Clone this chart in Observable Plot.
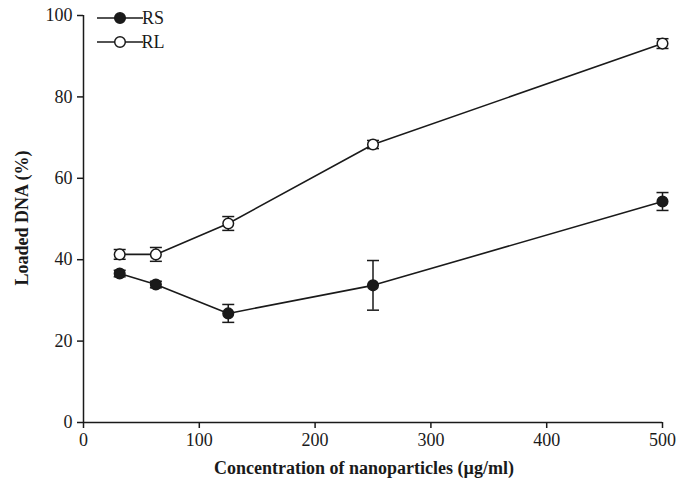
<!DOCTYPE html>
<html>
<head>
<meta charset="utf-8">
<script src="https://cdn.jsdelivr.net/npm/d3@7"></script>
<script src="https://cdn.jsdelivr.net/npm/@observablehq/plot@0.6"></script>
<style>
  html, body { margin: 0; padding: 0; background: #fff; }
  #chart { position: relative; width: 690px; height: 482px; }
</style>
</head>
<body>
<div id="chart"></div>
<script>
const conc = [31.25, 62.5, 125, 250, 500];
const rsMean = [36.6, 33.9, 26.8, 33.7, 54.3];
const rsErr = [0.8, 0.8, 2.2, 6.1, 2.2];
const rlMean = [41.3, 41.3, 48.9, 68.3, 93.1];
const rlErr = [1.2, 1.7, 1.7, 1.0, 1.2];
const seriesNames = ["RS", "RL"];
const xTicks = [0, 100, 200, 300, 400, 500];
const yTicks = [0, 20, 40, 60, 80, 100];

const rows = [];
conc.forEach((c, i) => rows.push({series: "RS", x: c, y: rsMean[i], e: rsErr[i]}));
conc.forEach((c, i) => rows.push({series: "RL", x: c, y: rlMean[i], e: rlErr[i]}));

const ink = "#1a1a1a";
const serif = "'Liberation Serif', 'Times New Roman', serif";
const cap = {draw(ctx) { ctx.moveTo(-6, 0); ctx.lineTo(6, 0); }};

const plot = Plot.plot({
  width: 690,
  height: 482,
  marginLeft: 83,
  marginRight: 28,
  marginTop: 15,
  marginBottom: 60,
  style: {fontFamily: serif, fontSize: "18px", color: ink, background: "#fff"},
  x: {domain: [0, 500]},
  y: {domain: [0, 100]},
  marks: [
    Plot.ruleY([0], {x1: 0, x2: 500, stroke: ink, strokeWidth: 1.5}),
    Plot.ruleX([0], {y1: 0, y2: 100, stroke: ink, strokeWidth: 1.5}),
    Plot.axisX({ticks: xTicks, tickSize: 6, tickPadding: 5, stroke: ink, strokeWidth: 1.5, fontSize: 18,
      label: null}),
    Plot.axisY({ticks: yTicks, tickSize: 6, tickPadding: 5, stroke: ink, strokeWidth: 1.5, fontSize: 18,
      label: null}),
    Plot.line(rows, {x: "x", y: "y", z: "series", stroke: ink, strokeWidth: 1.6}),
    Plot.ruleX(rows, {x: "x", y1: d => d.y - d.e, y2: d => d.y + d.e, stroke: ink, strokeWidth: 1.5}),
    Plot.dot(rows, {x: "x", y: d => d.y - d.e, symbol: cap, r: 6, stroke: ink, strokeWidth: 1.5, fill: "none"}),
    Plot.dot(rows, {x: "x", y: d => d.y + d.e, symbol: cap, r: 6, stroke: ink, strokeWidth: 1.5, fill: "none"}),
    Plot.dot(rows, {x: "x", y: "y", r: 5.3, stroke: ink, strokeWidth: 1.5,
      fill: d => d.series === "RS" ? ink : "#fff"})
  ]
});

document.getElementById("chart").appendChild(plot);

const svg = d3.select(plot);

// Axis titles
svg.append("text")
  .attr("x", 364).attr("y", 474)
  .attr("text-anchor", "middle")
  .attr("font-family", serif).attr("font-size", 18).attr("font-weight", "bold").attr("fill", ink)
  .text("Concentration of nanoparticles (µg/ml)");
svg.append("text")
  .attr("transform", "translate(28,218) rotate(-90)")
  .attr("text-anchor", "middle")
  .attr("font-family", serif).attr("font-size", 18).attr("font-weight", "bold").attr("fill", ink)
  .text("Loaded DNA (%)");

// Legend inside the plot, top-left
const leg = svg.append("g").attr("font-family", serif).attr("font-size", 18).attr("fill", ink);
seriesNames.forEach((name, i) => {
  const yy = 18 + i * 24;
  leg.append("line").attr("x1", 97).attr("x2", 143).attr("y1", yy).attr("y2", yy)
    .attr("stroke", ink).attr("stroke-width", 1.6);
  leg.append("circle").attr("cx", 120).attr("cy", yy).attr("r", 5.3)
    .attr("stroke", ink).attr("stroke-width", 1.5).attr("fill", name === "RS" ? ink : "#fff");
  leg.append("text").attr("x", 153).attr("y", yy).attr("dy", "0.35em").text(name);
});
</script>
</body>
</html>
